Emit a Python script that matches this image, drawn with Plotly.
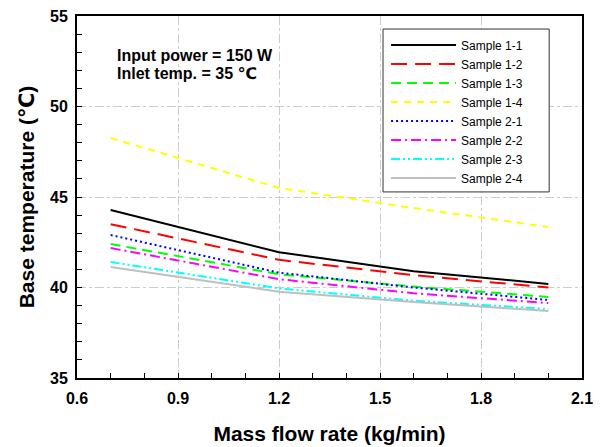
import plotly.graph_objects as go

flow = [0.7, 1.2, 1.6, 2.0]
names = ["Sample 1-1", "Sample 1-2", "Sample 1-3", "Sample 1-4",
         "Sample 2-1", "Sample 2-2", "Sample 2-3", "Sample 2-4"]
s11 = [44.28, 41.95, 40.90, 40.20]
s12 = [43.50, 41.53, 40.68, 40.00]
s13 = [42.40, 40.73, 40.05, 39.48]
s14 = [48.26, 45.50, 44.39, 43.34]
s21 = [42.90, 40.82, 40.00, 39.31]
s22 = [42.18, 40.46, 39.68, 39.14]
s23 = [41.41, 39.95, 39.27, 38.81]
s24 = [41.13, 39.77, 39.20, 38.70]
series = [s11, s12, s13, s14, s21, s22, s23, s24]
notes = ["Input power = 150 W", "Inlet temp. = 35 ℃"]

colors = ["#000000", "#ff0000", "#00ff00", "#ffff00",
          "#0000ff", "#ff00ff", "#00ffff", "#bfbfbf"]
dashes = ["solid", "16px,8px", "10px,6px", "7px,6px",
          "2px,3px", "10px,4px,2px,4px", "9px,3px,2px,3px,2px,3px", "solid"]

FONT = "Liberation Sans, Arial, DejaVu Sans, sans-serif"

fig = go.Figure()
for n, s, c, d in zip(names, series, colors, dashes):
    fig.add_trace(go.Scatter(x=flow, y=s, name=n, mode="lines",
                             line=dict(color=c, dash=d, width=2)))

for i, t in enumerate(notes):
    fig.add_annotation(x=0.075, y=0.892 - 0.052 * i, xref="paper", yref="paper",
                       xanchor="left", yanchor="middle", align="left", showarrow=False,
                       text="<b>" + t + "</b>",
                       font=dict(family=FONT, size=16, color="#000"))

# legend frame
fig.add_shape(type="rect", xref="paper", yref="paper",
              x0=0.606, x1=0.935, y0=0.514, y1=0.964,
              line=dict(color="#333", width=1), fillcolor="white", layer="above")

axis_common = dict(showline=True, linecolor="#000", linewidth=2, mirror=True,
                   ticks="inside", ticklen=5, tickcolor="#000", tickwidth=1,
                   showgrid=True, gridcolor="#cccccc", griddash="dashdot", gridwidth=1,
                   zeroline=False, automargin=False,
                   tickfont=dict(family=FONT, size=16, color="#000", weight="bold"))

fig.update_xaxes(range=[0.6, 2.1], dtick=0.3, tick0=0.6, tickformat=".1f",
                 ticklabelstandoff=5,
                 minor=dict(dtick=0.1, ticks="inside", ticklen=5, tickcolor="#000", showgrid=False),
                 title=dict(text="<b>Mass flow rate (kg/min)</b>",
                            font=dict(family=FONT, size=21, color="#000"), standoff=20),
                 **axis_common)
fig.update_yaxes(range=[35, 55], dtick=5, ticklabelstandoff=4,
                 minor=dict(dtick=1, ticks="inside", ticklen=5, tickcolor="#000", showgrid=False),
                 title=dict(text="<b>Base temperature (℃)</b>",
                            font=dict(family=FONT, size=21, color="#000"), standoff=10),
                 **axis_common)

fig.update_layout(width=601, height=447, margin=dict(l=77, r=19, t=16, b=69),
                  paper_bgcolor="white", plot_bgcolor="white",
                  legend=dict(x=0.612, y=0.96, xanchor="left", yanchor="top",
                              bgcolor="rgba(0,0,0,0)", borderwidth=0,
                              font=dict(family=FONT, size=12, color="#000"),
                              itemwidth=65, tracegroupgap=0),
                  showlegend=True)

fig.write_html("out.html", config={"displayModeBar": False},
               post_script="document.body.style.margin='0';document.body.style.padding='0';")
